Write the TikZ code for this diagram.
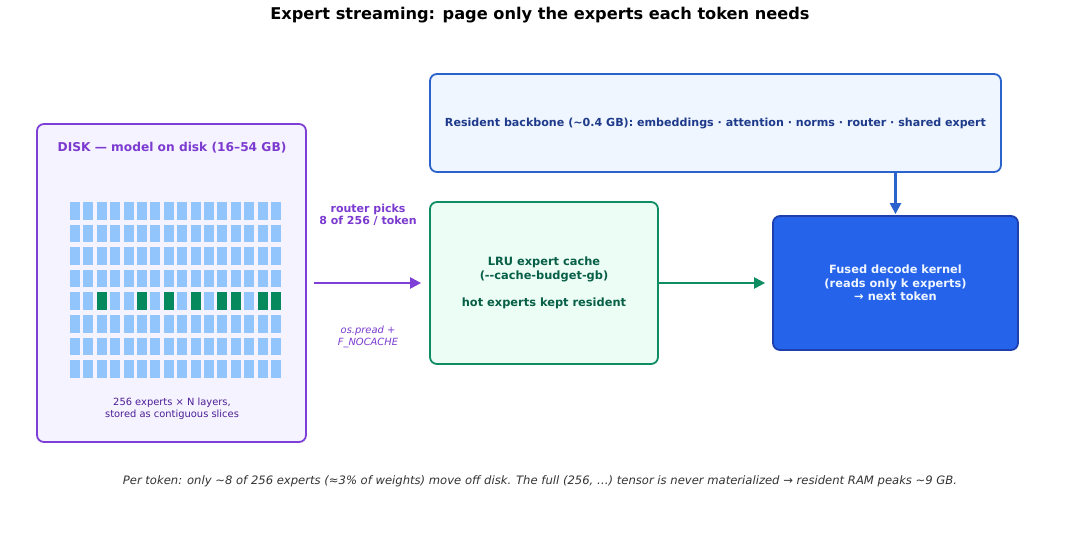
\documentclass[tikz,border=0pt]{standalone}
\usepackage{fontspec}
\setmainfont{DejaVu Sans}
\usetikzlibrary{arrows.meta}
\definecolor{diskfill}{HTML}{F5F3FF}
\definecolor{diskdraw}{HTML}{7E3FD6}
\definecolor{disktext}{HTML}{7B3AD0}
\definecolor{diskcap}{HTML}{4C1D95}
\definecolor{cell}{HTML}{93C5FD}
\definecolor{hot}{HTML}{07895E}
\definecolor{bbfill}{HTML}{EFF6FF}
\definecolor{bbdraw}{HTML}{2B63CC}
\definecolor{bbtext}{HTML}{1E3A8A}
\definecolor{lrufill}{HTML}{ECFDF5}
\definecolor{lrudraw}{HTML}{0E8C62}
\definecolor{lrutext}{HTML}{065F46}
\definecolor{fusedfill}{HTML}{2563EB}
\definecolor{fuseddraw}{HTML}{1E40AF}
\definecolor{footgray}{HTML}{333333}
\tikzset{
  box/.style={rounded corners=7pt, line width=1.8pt, inner sep=0pt},
  lbl/.style={font=\fontsize{11.4}{13.7}\selectfont\bfseries, align=center},
  conn/.style={line width=2.3pt, -{Triangle[length=11pt,width=11pt]}},
}
\begin{document}
\begin{tikzpicture}[x=1pt,y=-1pt]
\useasboundingbox[fill=white] (0,0) rectangle (1080,533);
% title
\node[font=\fontsize{16.2}{19}\selectfont\bfseries] (title) at (540,15) {Expert streaming: page only the experts each token needs};
% boxes
\node[box, draw=diskdraw, fill=diskfill, minimum width=269pt, minimum height=318pt] (disk) at (171.5,283) {};
\node[box, draw=bbdraw, fill=bbfill, minimum width=571pt, minimum height=98pt] (bb) at (715.5,123) {};
\node[box, draw=lrudraw, fill=lrufill, minimum width=228pt, minimum height=162pt] (lru) at (544,283) {};
\node[box, draw=fuseddraw, fill=fusedfill, minimum width=245pt, minimum height=134pt] (fused) at (895.5,283) {};
% texts in boxes
\node[lbl, text=disktext, font=\fontsize{12.2}{14}\selectfont\bfseries] (disktitle) at (172,148) {DISK — model on disk (16–54 GB)};
\node[lbl, text=bbtext, font=\fontsize{11.1}{13}\selectfont\bfseries] (bbtext) at (715.5,123) {Resident backbone (\textasciitilde0.4 GB): embeddings · attention · norms · router · shared expert};
\node[lbl, text=lrutext] (lrutext) at (544,283) {LRU expert cache\\(-{}-cache-budget-gb)\\[13.7pt]hot experts kept resident};
\node[lbl, text=bbfill] (fusedtext) at (895.5,283) {Fused decode kernel\\(reads only k experts)\\→ next token};
\node[align=center, text=diskcap, font=\fontsize{9.9}{11.6}\selectfont] (diskcap) at (172,408.5) {256 experts × N layers,\\stored as contiguous slices};
% grid of experts
\foreach \r in {0,...,7} {
  \foreach \c in {0,...,15} {
    \fill[cell] ({70+\c*13.4},{202+\r*22.6}) rectangle ++(10,17.5);
  }
}
\foreach \c in {2,5,7,9,11,12,14,15} {
  \fill[hot] ({70+\c*13.4},{202+4*22.6}) rectangle ++(10,17.5);
}
% connectors
\draw[conn, draw=diskdraw, fill=diskdraw, shorten <=7pt, shorten >=8pt] (disk.east) -- (lru.west);
\draw[conn, draw=lrudraw, fill=lrudraw, shorten <=-2pt, shorten >=7pt] (lru.east) -- (fused.west);
\draw[conn, draw=bbdraw, fill=bbdraw, shorten >=1pt] (fused.north |- bb.south) -- (fused.north);
% arrow labels
\node[lbl, text=disktext, font=\fontsize{11}{12.5}\selectfont\bfseries] (router) at (368,215) {router picks\\8 of 256 / token};
\node[align=center, text=disktext, font=\fontsize{9.9}{12}\selectfont\itshape] (pread) at (368,337) {os.pread +\\F\_NOCACHE};
% footer
\node[text=footgray, font=\fontsize{11.6}{13}\selectfont\itshape] (foot) at (540,481) {Per token: only \textasciitilde8 of 256 experts (≈3\% of weights) move off disk. The full (256, …) tensor is never materialized → resident RAM peaks \textasciitilde9 GB.};
\end{tikzpicture}
\end{document}
